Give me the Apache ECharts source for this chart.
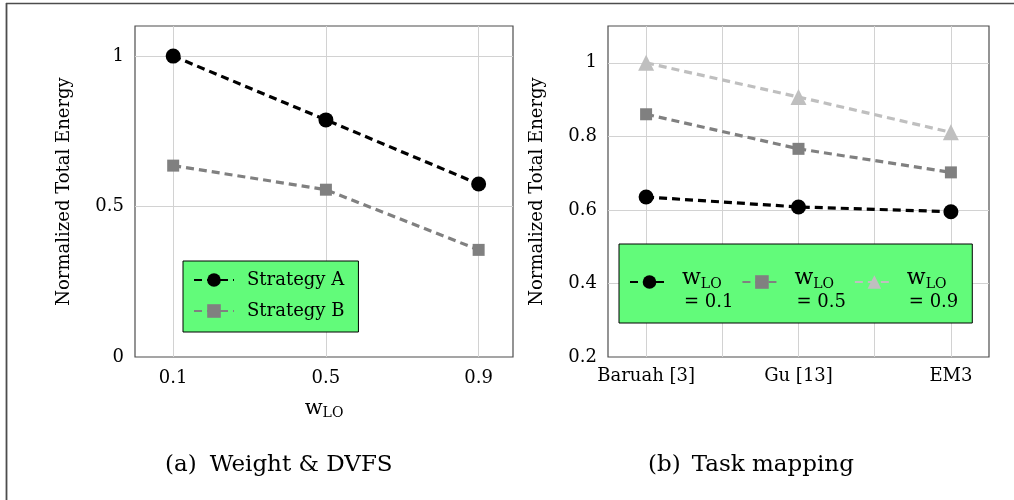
<!DOCTYPE html>
<html>
<head>
<meta charset="utf-8">
<title>Normalized Total Energy</title>
<script src="https://cdn.jsdelivr.net/npm/echarts@6/dist/echarts.min.js"></script>
<style>
  html, body { margin: 0; padding: 0; background: #ffffff; }
  #chart { width: 1014px; height: 500px; }
</style>
</head>
<body>
<div id="chart"></div>
<script>
// (a) energy against the LO-criticality weight
const weights = [0.1, 0.5, 0.9];
const strategyA = [1.0, 0.788, 0.575];
const strategyB = [0.636, 0.556, 0.356];
const energyTicksA = [0, 0.5, 1];

// (b) energy per task-mapping approach
const mappings = ['Baruah [3]', 'Gu [13]', 'EM3'];
const mappingWeights = ['0.1', '0.5', '0.9'];
const energyW01 = [0.635, 0.608, 0.595];
const energyW05 = [0.860, 0.766, 0.702];
const energyW09 = [1.000, 0.907, 0.811];
const energyTicksB = [0.2, 0.4, 0.6, 0.8, 1];

const FONT = 'DejaVu Serif';
const BLACK = '#000000';
const GRAY = '#808080';
const LIGHT = '#bfbfbf';
const FRAME = '#4d4d4d';
const GRID = '#d2d2d2';
const LEGEND_BG = '#62fb7a';
const DASH = [8, 5];

const chart = echarts.init(document.getElementById('chart'), null, { renderer: 'canvas' });

function lineSeries(name, xIdx, data, color, symbol, size) {
  return {
    name: name,
    type: 'line',
    xAxisIndex: xIdx,
    yAxisIndex: xIdx,
    data: data,
    symbol: symbol,
    symbolSize: size,
    showSymbol: true,
    itemStyle: { color: color },
    lineStyle: { color: color, width: 3.2, type: DASH },
    emphasis: { disabled: true },
    z: 3
  };
}

const weightNames = mappingWeights.map(w => 'wLO = ' + w);
const weightLabels = {};
mappingWeights.forEach((w, i) => { weightLabels[weightNames[i]] = '{w|w}{s|LO}\n{e|= ' + w + '}'; });

const valueAxisLabel = { fontFamily: FONT, fontSize: 18, color: '#000', margin: 11 };

const option = {
  animation: false,
  backgroundColor: '#ffffff',
  textStyle: { fontFamily: FONT },
  grid: [
    { left: 135, top: 26, width: 378, height: 331, show: true, borderColor: FRAME, borderWidth: 1.2, backgroundColor: 'transparent' },
    { left: 608, top: 26, width: 381, height: 331, show: true, borderColor: FRAME, borderWidth: 1.2, backgroundColor: 'transparent' }
  ],
  xAxis: [
    {
      gridIndex: 0, type: 'value', min: 0, max: 0.99,
      axisLine: { show: false },
      axisTick: { show: false, customValues: weights },
      axisLabel: Object.assign({}, valueAxisLabel, { customValues: weights, margin: 12 }),
      splitLine: { show: true, lineStyle: { color: GRID, width: 1 } },
      name: '{w|w}{s|LO}',
      nameLocation: 'middle',
      nameGap: 41,
      nameTextStyle: {
        rich: {
          w: { fontFamily: FONT, fontSize: 21, color: '#000', lineHeight: 22 },
          s: { fontFamily: FONT, fontSize: 14, color: '#000', lineHeight: 22, verticalAlign: 'bottom' }
        }
      }
    },
    {
      gridIndex: 1, type: 'value', min: -0.25, max: 2.25,
      axisLine: { show: false },
      axisTick: { show: false, customValues: [0, 0.5, 1, 1.5, 2] },
      axisLabel: Object.assign({}, valueAxisLabel, {
        customValues: mappings.map((m, i) => i),
        margin: 10,
        formatter: v => mappings[Math.round(v)]
      }),
      splitLine: { show: true, lineStyle: { color: GRID, width: 1 } }
    }
  ],
  yAxis: [
    {
      gridIndex: 0, type: 'value', min: 0, max: 1.1,
      axisLine: { show: false },
      axisTick: { show: false, customValues: energyTicksA.filter(v => v > 0) },
      axisLabel: Object.assign({}, valueAxisLabel, { customValues: energyTicksA }),
      splitLine: { show: true, lineStyle: { color: GRID, width: 1 } },
      name: 'Normalized Total Energy',
      nameLocation: 'middle',
      nameGap: 62,
      nameTextStyle: { fontFamily: FONT, fontSize: 18, color: '#000' }
    },
    {
      gridIndex: 1, type: 'value', min: 0.2, max: 1.1,
      axisLine: { show: false },
      axisTick: { show: false, customValues: energyTicksB.filter(v => v > 0.2) },
      axisLabel: Object.assign({}, valueAxisLabel, { customValues: energyTicksB }),
      splitLine: { show: true, lineStyle: { color: GRID, width: 1 } },
      name: 'Normalized Total Energy',
      nameLocation: 'middle',
      nameGap: 62,
      nameTextStyle: { fontFamily: FONT, fontSize: 18, color: '#000' }
    }
  ],
  legend: [
    {
      data: ['Strategy A', 'Strategy B'],
      orient: 'vertical',
      left: 183, top: 261,
      padding: [8, 14, 10, 10],
      itemGap: 9,
      itemWidth: 40,
      itemHeight: 17,
      selectedMode: false,
      backgroundColor: LEGEND_BG,
      borderColor: '#000',
      borderWidth: 1,
      borderRadius: 0,
      textStyle: { fontFamily: FONT, fontSize: 18, color: '#000', lineHeight: 22, padding: [0, 0, 0, 8] }
    },
    {
      data: weightNames,
      orient: 'horizontal',
      left: 619, top: 244,
      padding: [23, 14, 12, 10],
      itemGap: 8,
      itemWidth: 39,
      itemHeight: 17,
      selectedMode: false,
      backgroundColor: LEGEND_BG,
      borderColor: '#000',
      borderWidth: 1,
      borderRadius: 0,
      formatter: name => weightLabels[name],
      textStyle: {
        fontFamily: FONT, fontSize: 18, color: '#000',
        padding: [14, 0, 0, 8],
        rich: {
          w: { fontFamily: FONT, fontSize: 22, color: '#000', lineHeight: 26 },
          s: { fontFamily: FONT, fontSize: 14, color: '#000', lineHeight: 26, verticalAlign: 'bottom' },
          e: { fontFamily: FONT, fontSize: 18, color: '#000', lineHeight: 22, padding: [0, 0, 0, 2] }
        }
      }
    }
  ],
  graphic: [
    { type: 'line', shape: { x1: 6, y1: 3.5, x2: 1014, y2: 3.5 }, style: { stroke: FRAME, lineWidth: 1.6 }, z: 10 },
    { type: 'line', shape: { x1: 6.5, y1: 3, x2: 6.5, y2: 500 }, style: { stroke: FRAME, lineWidth: 1.8 }, z: 10 },
    {
      type: 'text', left: 165, top: 454,
      style: {
        text: '{l|(a)}{t|Weight & DVFS}',
        rich: {
          l: { fontFamily: FONT, fontSize: 23, fill: '#000', padding: [0, 13, 0, 0] },
          t: { fontFamily: FONT, fontSize: 23, fill: '#000' }
        }
      }
    },
    {
      type: 'text', left: 648, top: 454,
      style: {
        text: '{l|(b)}{t|Task mapping}',
        rich: {
          l: { fontFamily: FONT, fontSize: 23, fill: '#000', padding: [0, 11, 0, 0] },
          t: { fontFamily: FONT, fontSize: 23, fill: '#000' }
        }
      }
    }
  ],
  series: [
    lineSeries('Strategy A', 0, weights.map((w, i) => [w, strategyA[i]]), BLACK, 'circle', 15),
    lineSeries('Strategy B', 0, weights.map((w, i) => [w, strategyB[i]]), GRAY, 'rect', 12),
    lineSeries(weightNames[0], 1, mappings.map((m, i) => [i, energyW01[i]]), BLACK, 'circle', 15),
    lineSeries(weightNames[1], 1, mappings.map((m, i) => [i, energyW05[i]]), GRAY, 'rect', 12),
    lineSeries(weightNames[2], 1, mappings.map((m, i) => [i, energyW09[i]]), LIGHT, 'triangle', 16)
  ]
};

chart.setOption(option);
</script>
</body>
</html>
